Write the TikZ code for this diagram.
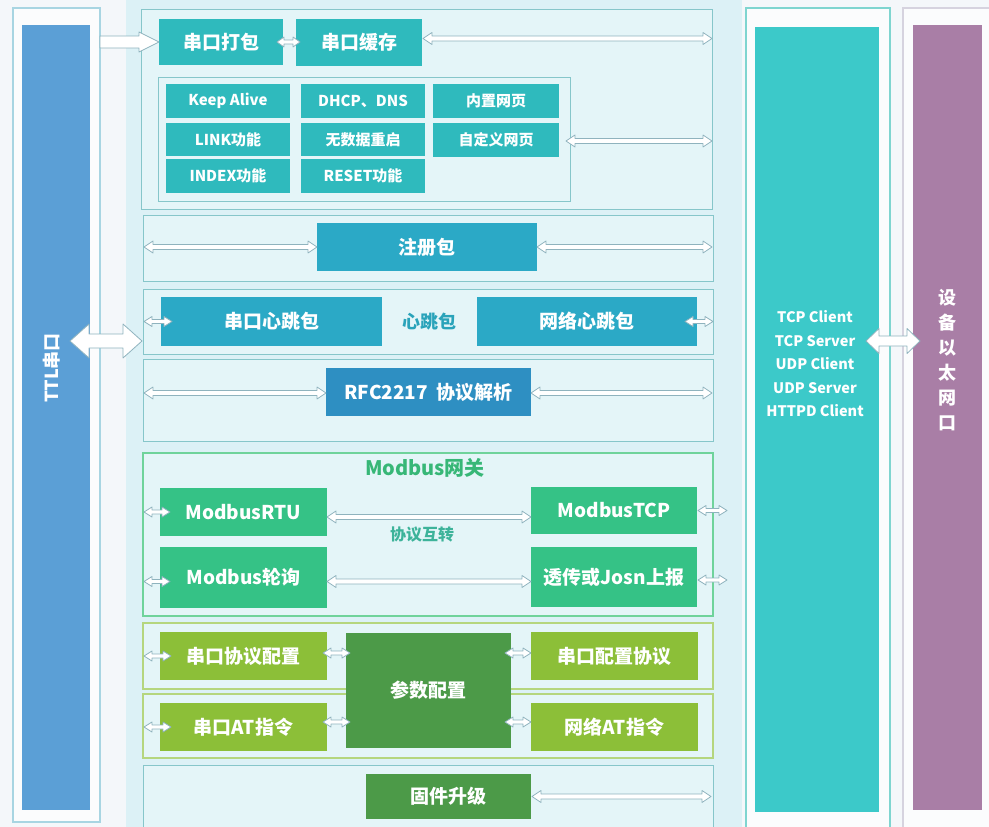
\documentclass[tikz,border=0pt]{standalone}
\usepackage{fontspec}
\setmainfont{Noto Sans CJK SC}
\usetikzlibrary{calc}
\definecolor{pagebg}{HTML}{F4F7FA}
\definecolor{panelbg}{HTML}{DCF1F6}
\definecolor{secbg}{HTML}{E4F5F8}
\definecolor{secline}{HTML}{86C6CA}
\definecolor{tealbox}{HTML}{2FBABD}
\definecolor{regbox}{HTML}{2BA9C6}
\definecolor{rfcbox}{HTML}{2E8FC2}
\definecolor{mbgreen}{HTML}{35C286}
\definecolor{mbline}{HTML}{6FD39B}
\definecolor{mbtitle}{HTML}{37B777}
\definecolor{olivebox}{HTML}{8CBF38}
\definecolor{oliveline}{HTML}{B5D67E}
\definecolor{darkgreen}{HTML}{4C9A48}
\definecolor{ttlblue}{HTML}{5B9FD6}
\definecolor{ttlline}{HTML}{A8D5E2}
\definecolor{tealcol}{HTML}{3CC9C9}
\definecolor{tealline}{HTML}{7FD5D0}
\definecolor{netpurple}{HTML}{A97EA6}
\definecolor{purline}{HTML}{D6D3DF}
\definecolor{arrline}{HTML}{8FB3BE}
\definecolor{hbtext}{HTML}{2AA3BA}
\definecolor{convtext}{HTML}{3DB39A}
\newcommand\fsz[1]{\fontsize{#1}{#1}\selectfont}
% box by pixel corners: [style]{name}{x1}{y1}{x2}{y2}{text}
\newcommand\bx[7][]{\node[#1, minimum width={(#5)-(#3)}, minimum height={(#6)-(#4)}] (#2) at ({((#3)+(#5))/2},{((#4)+(#6))/2}) {#7};}
% hollow double arrow: [style]{from}{to}{shaft half}{head half}{head length}
\newcommand\dar[6][]{\path[hollow,#1] let \p1=#2, \p2=#3 in
 (\x1,\y1) -- (\x1+#6,\y1+#5) -- (\x1+#6,\y1+#4) -- (\x2-#6,\y1+#4) -- (\x2-#6,\y1+#5) -- (\x2,\y1) -- (\x2-#6,\y1-#5) -- (\x2-#6,\y1-#4) -- (\x1+#6,\y1-#4) -- (\x1+#6,\y1-#5) -- cycle;}
% hollow single arrow
\newcommand\sar[6][]{\path[hollow,#1] let \p1=#2, \p2=#3 in
 (\x1,\y1+#4) -- (\x2-#6,\y1+#4) -- (\x2-#6,\y1+#5) -- (\x2,\y1) -- (\x2-#6,\y1-#5) -- (\x2-#6,\y1-#4) -- (\x1,\y1-#4) -- cycle;}
\begin{document}
\begin{tikzpicture}[x=1pt,y=-1pt,
  every node/.style={inner sep=0pt, outer sep=0pt},
  frame/.style={draw, line width=1.2pt, fill=white!60!pagebg},
  bar/.style={draw=none},
  sec/.style={draw=secline, line width=0.9pt, fill=secbg},
  inner/.style={draw=secline, line width=0.9pt},
  lbl/.style={text=white, font=\bfseries\fsz{19}},
  tbox/.style={lbl, fill=tealbox},
  sbox/.style={text=white, font=\bfseries\fsz{15}, fill=tealbox},
  rbox/.style={lbl, fill=regbox},
  fbox/.style={lbl, fill=rfcbox},
  gbox/.style={lbl, fill=mbgreen},
  obox/.style={lbl, fill=olivebox},
  dbox/.style={lbl, fill=darkgreen},
  hollow/.style={draw=arrline, fill=white, line width=0.8pt, line join=round}]
\clip (0,0) rectangle (989,827);
\fill[pagebg] (0,0) rectangle (989,827);
\fill[panelbg] (126,0) rectangle (742,827);
% left column
\bx[frame, draw=ttlline]{lframe}{13}{8}{100}{822}{}
\bx[bar, fill=ttlblue]{ttl}{22}{25}{90}{810}{}
\node[rotate=90, text=white, font=\bfseries\fsz{18}] (ttltext) at (52,368) {TTL串口};
% right columns
\bx[frame, draw=tealline]{netframe}{746}{8}{890}{845}{}
\bx[bar, fill=tealcol]{net}{755}{27}{879}{812}{}
\node[text=white, font=\bfseries\fontsize{14.5}{23.5}\selectfont, align=center] (proto) at (815,364) {TCP Client\\TCP Server\\UDP Client\\UDP Server\\HTTPD Client};
\bx[frame, draw=purline]{devframe}{903}{8}{1000}{845}{}
\bx[bar, fill=netpurple]{dev}{913}{25}{982}{810}{}
\node[text=white, font=\bfseries\fontsize{18}{25}\selectfont, align=center] (devtext) at (947,360) {设\\备\\以\\太\\网\\口};
% sections
\bx[sec]{s1}{141}{9}{712}{209}{}
\bx[sec]{s2}{143}{215}{713}{281}{}
\bx[sec]{s3}{143}{289}{713}{354}{}
\bx[sec]{s4}{143}{359}{713}{441}{}
\bx[sec, draw=mbline, line width=1.5pt]{s5}{143}{453}{713}{616}{}
\bx[sec, draw=oliveline, line width=1.2pt]{s6a}{143}{623}{713}{689}{}
\bx[sec, draw=oliveline, line width=1.2pt]{s6b}{143}{694}{713}{758}{}
\bx[sec]{s7}{143}{765}{713}{845}{}
% section 1
\bx[tbox]{pack}{159}{19}{283}{65}{串口打包}
\bx[tbox]{cache}{296}{19}{422}{66}{串口缓存}
\bx[inner]{inbox}{158}{77}{570}{201}{}
\bx[sbox]{ka}{166}{84}{290}{118}{Keep Alive}
\bx[sbox]{link}{166}{123}{290}{156}{LINK功能}
\bx[sbox]{idx}{166}{159}{290}{193}{INDEX功能}
\bx[sbox]{dhcp}{301}{84}{425}{118}{DHCP、DNS}
\bx[sbox]{nodata}{301}{123}{425}{156}{无数据重启}
\bx[sbox]{reset}{301}{159}{425}{193}{RESET功能}
\bx[sbox]{web}{433}{84}{559}{118}{内置网页}
\bx[sbox]{cweb}{433}{123}{559}{157}{自定义网页}
% section 2-4
\bx[rbox]{reg}{317}{223}{537}{271}{注册包}
\bx[rbox]{hbs}{161}{297}{382}{346}{串口心跳包}
\bx[rbox]{hbn}{477}{297}{697}{346}{网络心跳包}
\node[text=hbtext, font=\bfseries\fsz{18}] (hb) at (429,322) {心跳包};
\bx[fbox]{rfc}{326}{368}{531}{416}{RFC2217\ \ 协议解析}
% section 5
\node[text=mbtitle, font=\bfseries\fsz{20}] (mbt) at (425,468) {Modbus网关};
\bx[gbox]{rtu}{160}{488}{327}{536}{ModbusRTU}
\bx[gbox]{poll}{160}{547}{327}{608}{Modbus轮询}
\bx[gbox]{tcp}{531}{487}{697}{534}{ModbusTCP}
\bx[gbox]{json}{531}{547}{697}{607}{透传或Josn上报}
\node[text=convtext, font=\bfseries\fsz{16}] (conv) at (422,535) {协议互转};
% section 6
\bx[obox]{cfg1}{160}{632}{327}{680}{串口协议配置}
\bx[obox]{at1}{160}{703}{327}{751}{串口AT指令}
\bx[dbox]{param}{346}{633}{511}{748}{参数配置}
\bx[obox]{cfg2}{531}{632}{698}{680}{串口配置协议}
\bx[obox]{at2}{531}{703}{698}{751}{网络AT指令}
% section 7
\bx[dbox]{fw}{366}{774}{531}{819}{固件升级}
% ---- connectors ----
\sar{(lframe.east |- pack.west)}{(pack.west)}{6pt}{10pt}{20pt}
\dar{($(pack.east)+(-6,0)$)}{($(cache.west)+(4,0)$)}{2pt}{5pt}{7pt}
\dar{($(cache.east)+(1,-4)$)}{($(s1.east |- cache.east)+(0,-4)$)}{2.5pt}{6pt}{9pt}
\dar{($(inbox.east |- cweb.east)+(-4,1)$)}{($(s1.east |- cweb.east)+(0,1)$)}{2.5pt}{6pt}{9pt}
\dar{($(s2.west |- reg.west)+(1,0)$)}{(reg.west)}{2.5pt}{6pt}{9pt}
\dar{(reg.east)}{($(s2.east |- reg.east)+(-1,0)$)}{2.5pt}{6pt}{9pt}
\coordinate (bigl) at (70,341);
\coordinate (bigr) at (142,341);
\dar{(bigl)}{(bigr)}{7pt}{17pt}{19pt}
\coordinate (netl) at (866,341);
\coordinate (netr) at (920,341);
\dar{(netl)}{(netr)}{5pt}{12.5pt}{13pt}
\dar{($(s3.west |- hbs.west)+(1,0)$)}{($(hbs.west)+(11,0)$)}{2pt}{5pt}{8pt}
\dar{($(hbn.east)+(-12,0)$)}{(s3.east |- hbn.east)}{2pt}{5pt}{8pt}
\dar{($(s4.west |- rfc.west)+(1,1)$)}{($(rfc.west)+(0,1)$)}{2.5pt}{6pt}{9pt}
\dar{($(rfc.east)+(0,1)$)}{($(s4.east |- rfc.east)+(-1,1)$)}{2.5pt}{6pt}{9pt}
\dar{($(rtu.east)+(0,5)$)}{($(tcp.west)+(0,5)$)}{2.5pt}{6pt}{9pt}
\dar{($(poll.east)+(0,4)$)}{($(json.west |- poll.east)+(0,4)$)}{2.5pt}{6pt}{9pt}
\dar{($(s5.west |- rtu.west)+(1,0)$)}{($(rtu.west)+(10,0)$)}{2pt}{5pt}{8pt}
\dar{($(s5.west |- poll.west)+(1,4)$)}{($(poll.west)+(10,4)$)}{2pt}{5pt}{8pt}
\dar{($(tcp.east)+(1,0)$)}{($(tcp.east)+(30,0)$)}{2pt}{5pt}{8pt}
\dar{($(json.east)+(1,3)$)}{($(json.east)+(30,3)$)}{2pt}{5pt}{8pt}
\dar{($(s6a.west |- cfg1.west)+(1,0)$)}{($(cfg1.west)+(11,0)$)}{2pt}{5pt}{8pt}
\dar{($(s6b.west |- at1.west)+(1,0)$)}{($(at1.west)+(11,0)$)}{2pt}{5pt}{8pt}
\dar{($(cfg1.east)+(-4,-3)$)}{($(param.west |- cfg1.east)+(4,-3)$)}{2pt}{5pt}{8pt}
\dar{($(at1.east)+(-4,-5)$)}{($(param.west |- at1.east)+(4,-5)$)}{2pt}{5pt}{8pt}
\dar{($(param.east |- cfg2.west)+(-6,-3)$)}{($(cfg2.west)+(0,-3)$)}{2pt}{5pt}{8pt}
\dar{($(param.east |- at2.west)+(-6,-5)$)}{($(at2.west)+(0,-5)$)}{2pt}{5pt}{8pt}
\dar{($(fw.east)+(1,0)$)}{($(s7.east |- fw.east)+(-2,0)$)}{2.5pt}{6pt}{9pt}
\end{tikzpicture}
\end{document}
